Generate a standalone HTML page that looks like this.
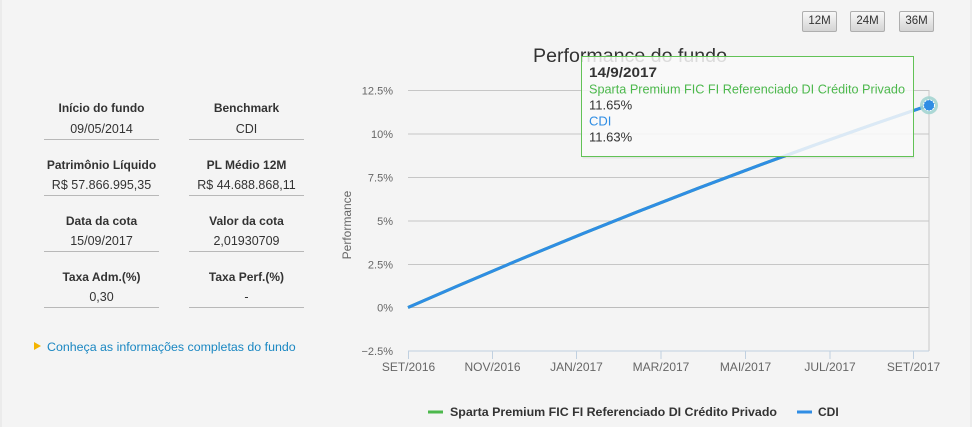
<!DOCTYPE html>
<html><head><meta charset="utf-8">
<style>
html,body{margin:0;padding:0;}
body{width:972px;height:427px;background:#f4f4f4;position:relative;overflow:hidden;font-family:"Liberation Sans",Arial,sans-serif;}
.edgeL{position:absolute;left:0;top:0;width:2px;height:427px;background:#ebebeb;}
.edgeR{position:absolute;right:0;top:0;width:2px;height:427px;background:#ececec;}
.cell{position:absolute;width:115px;text-align:center;color:#333;font-size:12.5px;line-height:14px;}
.lbl{font-weight:bold;font-size:12px;}
.ul{position:absolute;width:115px;height:1px;background:#b8b8b8;}
.link{position:absolute;left:47px;top:340px;font-size:12.4px;line-height:14px;color:#1a87c2;white-space:nowrap;}
.tri{position:absolute;left:34px;top:342px;width:0;height:0;border-left:7px solid #f4b400;border-top:4.5px solid transparent;border-bottom:4.5px solid transparent;}
.btn{position:absolute;top:11px;width:33px;height:19px;border:1px solid #aeaeae;border-radius:2px;background:linear-gradient(#f8f8f8,#d4d4d4);font-size:11.5px;line-height:19px;text-align:center;color:#333;}
svg{position:absolute;left:0;top:0;}
</style></head>
<body>
<div class="edgeL"></div><div class="edgeR"></div>

<div class="cell lbl" style="left:44px;top:101px">Início do fundo</div>
<div class="cell" style="left:44px;top:122px">09/05/2014</div>
<div class="ul" style="left:44px;top:139px"></div>
<div class="cell lbl" style="left:189px;top:101px">Benchmark</div>
<div class="cell" style="left:189px;top:122px">CDI</div>
<div class="ul" style="left:189px;top:139px"></div>

<div class="cell lbl" style="left:44px;top:158px">Patrimônio Líquido</div>
<div class="cell" style="left:44px;top:178px">R$ 57.866.995,35</div>
<div class="ul" style="left:44px;top:195px"></div>
<div class="cell lbl" style="left:189px;top:158px">PL Médio 12M</div>
<div class="cell" style="left:189px;top:178px">R$ 44.688.868,11</div>
<div class="ul" style="left:189px;top:195px"></div>

<div class="cell lbl" style="left:44px;top:214px">Data da cota</div>
<div class="cell" style="left:44px;top:234px">15/09/2017</div>
<div class="ul" style="left:44px;top:251px"></div>
<div class="cell lbl" style="left:189px;top:214px">Valor da cota</div>
<div class="cell" style="left:189px;top:234px">2,01930709</div>
<div class="ul" style="left:189px;top:251px"></div>

<div class="cell lbl" style="left:44px;top:270px">Taxa Adm.(%)</div>
<div class="cell" style="left:44px;top:290px">0,30</div>
<div class="ul" style="left:44px;top:307px"></div>
<div class="cell lbl" style="left:189px;top:270px">Taxa Perf.(%)</div>
<div class="cell" style="left:189px;top:290px">-</div>
<div class="ul" style="left:189px;top:307px"></div>

<div class="tri"></div>
<div class="link">Conheça as informações completas do fundo</div>

<div class="btn" style="left:802px">12M</div>
<div class="btn" style="left:850px">24M</div>
<div class="btn" style="left:899px">36M</div>

<svg width="972" height="427" viewBox="0 0 972 427" xmlns="http://www.w3.org/2000/svg" font-family="Liberation Sans, Arial, sans-serif">
  <text x="630" y="62" text-anchor="middle" font-size="19" fill="#333" textLength="194" lengthAdjust="spacingAndGlyphs">Performance do fundo</text>
  <!-- grid -->
  <g stroke="#c6c6c6" stroke-width="1">
    <line x1="408" y1="90.5" x2="929" y2="90.5"/>
    <line x1="408" y1="134" x2="929" y2="134"/>
    <line x1="408" y1="177.5" x2="929" y2="177.5"/>
    <line x1="408" y1="221" x2="929" y2="221"/>
    <line x1="408" y1="264.5" x2="929" y2="264.5"/>
    <line x1="408" y1="307.5" x2="929" y2="307.5" stroke="#bcbcbc"/>
    <line x1="929" y1="90" x2="929" y2="351" stroke="#c8c8c8"/>
  </g>
  <line x1="408" y1="351" x2="929" y2="351" stroke="#c0d0e0" stroke-width="1"/>
  <g stroke="#c0d0e0" stroke-width="1">
    <line x1="408.5" y1="351" x2="408.5" y2="359"/>
    <line x1="492.5" y1="351" x2="492.5" y2="359"/>
    <line x1="576.5" y1="351" x2="576.5" y2="359"/>
    <line x1="661" y1="351" x2="661" y2="359"/>
    <line x1="745.5" y1="351" x2="745.5" y2="359"/>
    <line x1="830" y1="351" x2="830" y2="359"/>
    <line x1="913.5" y1="351" x2="913.5" y2="359"/>
  </g>
  <g font-size="11" fill="#666" text-anchor="end">
    <text x="393" y="94.5">12.5%</text>
    <text x="393" y="138">10%</text>
    <text x="393" y="181.5">7.5%</text>
    <text x="393" y="225">5%</text>
    <text x="393" y="268.5">2.5%</text>
    <text x="393" y="311.5">0%</text>
    <text x="393" y="355">−2.5%</text>
  </g>
  <g font-size="12" fill="#666" text-anchor="middle">
    <text x="408.5" y="371">SET/2016</text>
    <text x="492.5" y="371">NOV/2016</text>
    <text x="576.5" y="371">JAN/2017</text>
    <text x="661" y="371">MAR/2017</text>
    <text x="745.5" y="371">MAI/2017</text>
    <text x="830" y="371">JUL/2017</text>
    <text x="913.5" y="371">SET/2017</text>
  </g>
  <text transform="translate(351,225) rotate(-90)" text-anchor="middle" font-size="12" fill="#666">Performance</text>

  <!-- series -->
  <path d="M408,307.5 Q668.5,192.9 929,105.3" fill="none" stroke="#4cb84c" stroke-width="3"/>
  <path d="M408,307.5 Q668.5,192.9 929,105.3" fill="none" stroke="#2f8de4" stroke-width="3"/>

  <!-- tooltip -->
  <rect x="581.5" y="56.5" width="332" height="100" fill="rgba(249,249,249,0.85)" stroke="#62c256" stroke-width="1"/>
  <rect x="582.5" y="157" width="332" height="1.5" fill="rgba(0,0,0,0.06)"/>
  <text x="589" y="77" font-size="13.5" font-weight="bold" fill="#333" textLength="68" lengthAdjust="spacingAndGlyphs">14/9/2017</text>
  <text x="589" y="93.5" font-size="13" fill="#4cb84c" textLength="316" lengthAdjust="spacingAndGlyphs">Sparta Premium FIC FI Referenciado DI Crédito Privado</text>
  <text x="589" y="109.5" font-size="13" fill="#333">11.65%</text>
  <text x="589" y="125.5" font-size="13" fill="#2f8de4">CDI</text>
  <text x="589" y="141.5" font-size="13" fill="#333">11.63%</text>

  <!-- marker -->
  <circle cx="929" cy="105.3" r="9" fill="#9fd2cf" fill-opacity="0.85"/>
  <circle cx="929" cy="105.3" r="5.5" fill="#2f8de4" stroke="#ffffff" stroke-width="1" stroke-dasharray="2,1"/>
  <polygon points="929,100.3 934,105.3 929,110.3 924,105.3" fill="#2f8de4"/>

  <!-- legend -->
  <line x1="428" y1="412" x2="443" y2="412" stroke="#4cb84c" stroke-width="3"/>
  <text x="450" y="416" font-size="12" font-weight="bold" fill="#333" textLength="327" lengthAdjust="spacingAndGlyphs">Sparta Premium FIC FI Referenciado DI Crédito Privado</text>
  <line x1="797" y1="412" x2="812" y2="412" stroke="#2f8de4" stroke-width="3"/>
  <text x="818" y="416" font-size="12" font-weight="bold" fill="#333">CDI</text>
</svg>
</body></html>
